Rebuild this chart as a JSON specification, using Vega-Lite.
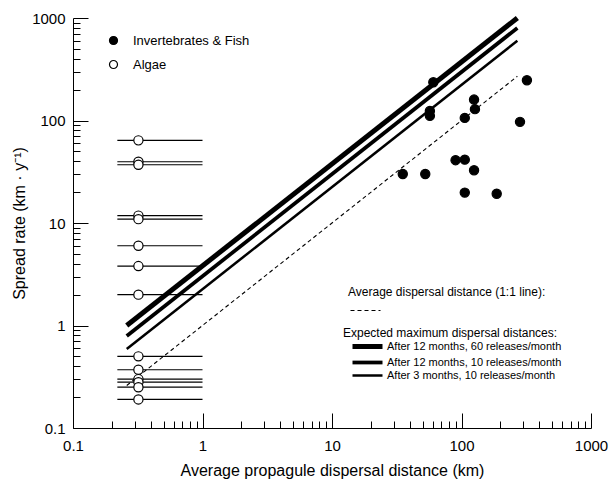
{
  "$schema": "https://vega.github.io/schema/vega-lite/v6.json",
  "width": 518,
  "height": 410,
  "autosize": "none",
  "padding": {"left": 73, "top": 18, "right": 22, "bottom": 64},
  "background": "white",
  "config": {
    "view": {"stroke": null},
    "font": "Liberation Sans",
    "axis": {
      "domainColor": "black",
      "tickColor": "black",
      "labelColor": "black",
      "titleColor": "black",
      "labelFont": "Liberation Sans",
      "titleFont": "Liberation Sans",
      "labelFontSize": 15,
      "titleFontSize": 16,
      "titleFontWeight": "normal",
      "grid": false,
      "labelOverlap": false,
      "labelFlush": false
    },
    "legend": {
      "labelFont": "Liberation Sans",
      "titleFont": "Liberation Sans",
      "labelColor": "black",
      "titleColor": "black",
      "titleFontWeight": "normal",
      "labelLimit": 0,
      "titleLimit": 0,
      "padding": 0
    }
  },
  "datasets": {
    "algae": [
      {"x": 0.32, "y": 64, "xmin": 0.22, "xmax": 1.0},
      {"x": 0.32, "y": 39.6, "xmin": 0.22, "xmax": 1.0},
      {"x": 0.32, "y": 37, "xmin": 0.22, "xmax": 1.0},
      {"x": 0.32, "y": 11.8, "xmin": 0.22, "xmax": 1.0},
      {"x": 0.32, "y": 10.9, "xmin": 0.22, "xmax": 1.0},
      {"x": 0.32, "y": 6.0, "xmin": 0.22, "xmax": 1.0},
      {"x": 0.32, "y": 3.8, "xmin": 0.22, "xmax": 1.0},
      {"x": 0.32, "y": 2.0, "xmin": 0.22, "xmax": 1.0},
      {"x": 0.32, "y": 0.5, "xmin": 0.22, "xmax": 1.0},
      {"x": 0.32, "y": 0.37, "xmin": 0.22, "xmax": 1.0},
      {"x": 0.32, "y": 0.30, "xmin": 0.22, "xmax": 1.0},
      {"x": 0.32, "y": 0.28, "xmin": 0.22, "xmax": 1.0},
      {"x": 0.32, "y": 0.25, "xmin": 0.22, "xmax": 1.0},
      {"x": 0.32, "y": 0.19, "xmin": 0.22, "xmax": 1.0}
    ],
    "points": [
      {"group": "Algae", "x": 0.32, "y": 64},
      {"group": "Algae", "x": 0.32, "y": 39.6},
      {"group": "Algae", "x": 0.32, "y": 37},
      {"group": "Algae", "x": 0.32, "y": 11.8},
      {"group": "Algae", "x": 0.32, "y": 10.9},
      {"group": "Algae", "x": 0.32, "y": 6.0},
      {"group": "Algae", "x": 0.32, "y": 3.8},
      {"group": "Algae", "x": 0.32, "y": 2.0},
      {"group": "Algae", "x": 0.32, "y": 0.5},
      {"group": "Algae", "x": 0.32, "y": 0.37},
      {"group": "Algae", "x": 0.32, "y": 0.30},
      {"group": "Algae", "x": 0.32, "y": 0.28},
      {"group": "Algae", "x": 0.32, "y": 0.25},
      {"group": "Algae", "x": 0.32, "y": 0.19},
      {"group": "Invertebrates & Fish", "x": 60.6, "y": 236},
      {"group": "Invertebrates & Fish", "x": 57, "y": 124},
      {"group": "Invertebrates & Fish", "x": 57, "y": 111},
      {"group": "Invertebrates & Fish", "x": 125, "y": 160},
      {"group": "Invertebrates & Fish", "x": 127, "y": 129},
      {"group": "Invertebrates & Fish", "x": 106, "y": 106},
      {"group": "Invertebrates & Fish", "x": 320, "y": 247},
      {"group": "Invertebrates & Fish", "x": 283, "y": 97},
      {"group": "Invertebrates & Fish", "x": 90, "y": 41},
      {"group": "Invertebrates & Fish", "x": 106, "y": 41.5},
      {"group": "Invertebrates & Fish", "x": 125, "y": 32.7},
      {"group": "Invertebrates & Fish", "x": 35.2, "y": 30.1},
      {"group": "Invertebrates & Fish", "x": 52.5, "y": 30.1},
      {"group": "Invertebrates & Fish", "x": 106, "y": 19.8},
      {"group": "Invertebrates & Fish", "x": 187, "y": 19.3}
    ],
    "avgline": [
      {"kind": "avg", "x": 0.26, "y": 0.26},
      {"kind": "avg", "x": 270, "y": 270}
    ],
    "maxlines": [
      {"series": "After 12 months, 60 releases/month", "x": 0.26, "y": 1.0},
      {"series": "After 12 months, 60 releases/month", "x": 270, "y": 1000},
      {"series": "After 12 months, 10 releases/month", "x": 0.26, "y": 0.79},
      {"series": "After 12 months, 10 releases/month", "x": 270, "y": 800},
      {"series": "After 3 months, 10 releases/month", "x": 0.26, "y": 0.59},
      {"series": "After 3 months, 10 releases/month", "x": 270, "y": 600}
    ]
  },
  "layer": [
    {
      "data": {"name": "algae"},
      "mark": {"type": "rule", "color": "black", "strokeWidth": 1.2},
      "encoding": {
        "x": {
          "field": "xmin", "type": "quantitative",
          "scale": {"type": "log", "domain": [0.1, 1000], "nice": false},
          "title": "Average propagule dispersal distance (km)",
          "axis": {
            "values": [0.1,0.2,0.3,0.4,0.5,0.6,0.7,0.8,0.9,1,2,3,4,5,6,7,8,9,10,20,30,40,50,60,70,80,90,100,200,300,400,500,600,700,800,900,1000],
            "format": "~g",
            "labelExpr": "(datum.value == 0.1 || datum.value == 1 || datum.value == 10 || datum.value == 100 || datum.value == 1000) ? datum.label : ''",
            "tickSize": {"condition": {"test": "datum.value == 0.1 || datum.value == 1 || datum.value == 10 || datum.value == 100 || datum.value == 1000", "value": -15}, "value": -7},
            "labelPadding": 25,
            "titlePadding": 1
          }
        },
        "x2": {"field": "xmax"},
        "y": {
          "field": "y", "type": "quantitative",
          "scale": {"type": "log", "domain": [0.1, 1000], "nice": false},
          "title": "Spread rate (km · y⁻¹)",
          "axis": {
            "values": [0.1,0.2,0.3,0.4,0.5,0.6,0.7,0.8,0.9,1,2,3,4,5,6,7,8,9,10,20,30,40,50,60,70,80,90,100,200,300,400,500,600,700,800,900,1000],
            "format": "~g",
            "labelExpr": "(datum.value == 0.1 || datum.value == 1 || datum.value == 10 || datum.value == 100 || datum.value == 1000) ? datum.label : ''",
            "tickSize": {"condition": {"test": "datum.value == 0.1 || datum.value == 1 || datum.value == 10 || datum.value == 100 || datum.value == 1000", "value": -15}, "value": -7},
            "labelPadding": 23,
            "titlePadding": 4
          }
        }
      }
    },
    {
      "data": {"name": "avgline"},
      "mark": {"type": "line", "color": "black", "strokeWidth": 1.1},
      "encoding": {
        "x": {"field": "x", "type": "quantitative", "title": "Average propagule dispersal distance (km)"},
        "y": {"field": "y", "type": "quantitative", "title": "Spread rate (km · y⁻¹)"},
        "strokeDash": {
          "field": "kind", "type": "nominal",
          "scale": {"domain": ["avg"], "range": [[4, 3]]},
          "legend": {
            "title": "Average dispersal distance (1:1 line):",
            "titleFontSize": 12,
            "titlePadding": 6,
            "labelExpr": "''",
            "labelFontSize": 11,
            "symbolType": "M-1,0H9",
            "symbolSize": 36,
            "symbolStrokeColor": "black",
            "symbolStrokeWidth": 1.1,
            "orient": "none",
            "legendX": 275,
            "legendY": 269
          }
        }
      }
    },
    {
      "data": {"name": "maxlines"},
      "mark": {"type": "line", "color": "black"},
      "encoding": {
        "x": {"field": "x", "type": "quantitative", "title": "Average propagule dispersal distance (km)"},
        "y": {"field": "y", "type": "quantitative", "title": "Spread rate (km · y⁻¹)"},
        "detail": {"field": "series"},
        "strokeWidth": {
          "field": "series", "type": "nominal",
          "scale": {"domain": ["After 12 months, 60 releases/month", "After 12 months, 10 releases/month", "After 3 months, 10 releases/month"], "range": [5, 2.5, 1.2]},
          "legend": {
            "title": "Expected maximum dispersal distances:",
            "titleFontSize": 12,
            "titlePadding": 1,
            "labelFontSize": 11,
            "labelOffset": 26,
            "symbolType": "M-1,0H9",
            "symbolSize": 36,
            "symbolStrokeColor": "black",
            "symbolOffset": 7,
            "rowPadding": -4,
            "orient": "none",
            "legendX": 270,
            "legendY": 310
          }
        }
      }
    },
    {
      "data": {"name": "points"},
      "mark": {"type": "point", "shape": "circle", "filled": true, "stroke": "black", "strokeWidth": 1.2, "size": 85, "opacity": 1},
      "encoding": {
        "x": {"field": "x", "type": "quantitative", "title": "Average propagule dispersal distance (km)"},
        "y": {"field": "y", "type": "quantitative", "title": "Spread rate (km · y⁻¹)"},
        "fill": {
          "field": "group", "type": "nominal",
          "scale": {"domain": ["Invertebrates & Fish", "Algae"], "range": ["black", "white"]},
          "legend": {
            "title": null,
            "labelFontSize": 13,
            "labelOffset": 13,
            "symbolType": "circle",
            "symbolSize": 64,
            "symbolStrokeColor": "black",
            "symbolStrokeWidth": 1.2,
            "rowPadding": 10,
            "orient": "none",
            "legendX": 34,
            "legendY": 16
          }
        }
      }
    }
  ]
}
